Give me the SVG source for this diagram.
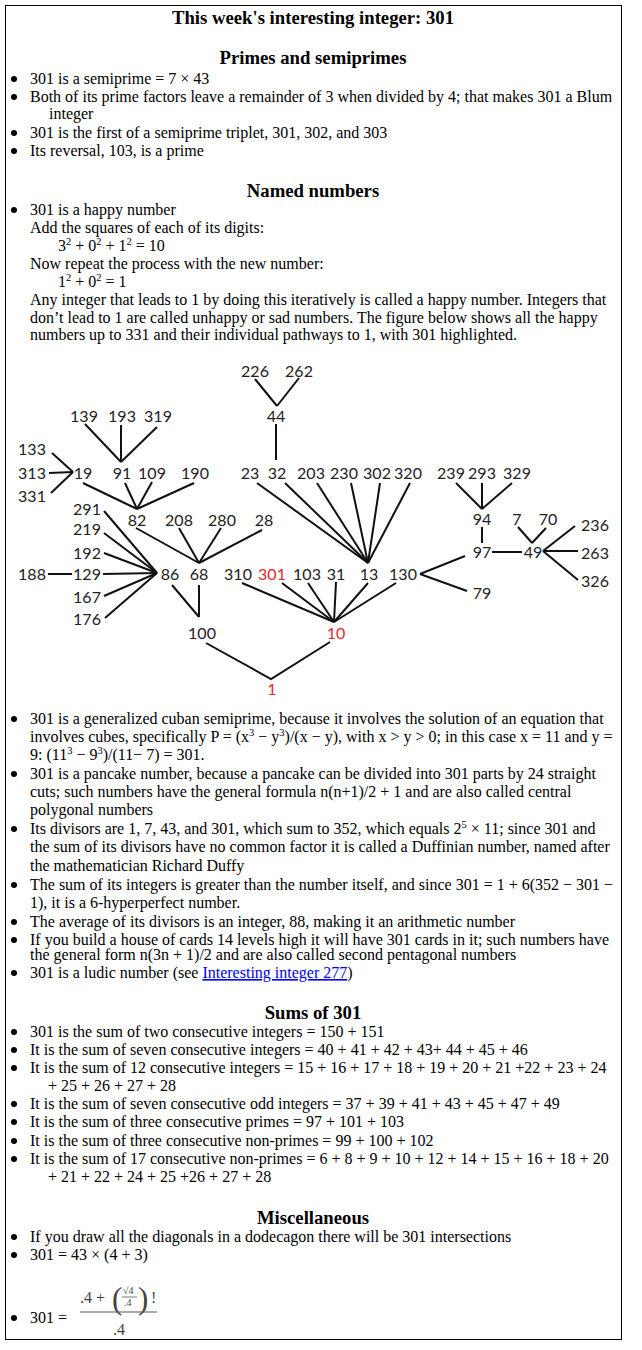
<svg xmlns="http://www.w3.org/2000/svg" width="642" height="1350" viewBox="0 0 642 1350">
<style>
.t{font-family:"Liberation Serif","Times New Roman",serif;font-size:16px;fill:#000}
.h{font-family:"Liberation Serif","Times New Roman",serif;font-size:18.7px;font-weight:bold;fill:#000;text-anchor:middle}
.b{fill:#000}
.n{font-family:Lato,"Open Sans",sans-serif;font-size:16px;fill:#222;text-anchor:middle}
.r{fill:#E8262B}
.c line,.c polyline{stroke:#111;stroke-width:2;fill:none}
.s{font-size:10.5px}
.m{font-family:"Liberation Serif","Times New Roman",serif;fill:#444}
</style>
<rect x="5.5" y="5.5" width="616" height="1334" fill="#fff" stroke="#000" stroke-width="1"/>

<g id="title">
<text class="h" x="313" y="24">This week's interesting integer: 301</text>
</g>

<g id="sec-primes">
<text class="h" x="313" y="64">Primes and semiprimes</text>
<circle class="b" cx="14" cy="79" r="3"/>
<text class="t" x="30" y="84">301 is a semiprime = 7 × 43</text>
<circle class="b" cx="14" cy="97" r="3"/>
<text class="t" x="30" y="102">Both of its prime factors leave a remainder of 3 when divided by 4; that makes 301 a Blum</text>
<text class="t" x="49" y="119">integer</text>
<circle class="b" cx="14" cy="133" r="3"/>
<text class="t" x="30" y="138">301 is the first of a semiprime triplet, 301, 302, and 303</text>
<circle class="b" cx="14" cy="151" r="3"/>
<text class="t" x="30" y="156">Its reversal, 103, is a prime</text>
</g>

<g id="sec-named">
<text class="h" x="313" y="197">Named numbers</text>
<circle class="b" cx="14" cy="210" r="3"/>
<text class="t" x="30" y="215">301 is a happy number</text>
<text class="t" x="30" y="233">Add the squares of each of its digits:</text>
<text class="t" x="58" y="251">3<tspan class="s" dy="-6">2</tspan><tspan dy="6"> + 0</tspan><tspan class="s" dy="-6">2</tspan><tspan dy="6"> + 1</tspan><tspan class="s" dy="-6">2</tspan><tspan dy="6"> = 10</tspan></text>
<text class="t" x="30" y="269">Now repeat the process with the new number:</text>
<text class="t" x="58" y="287">1<tspan class="s" dy="-6">2</tspan><tspan dy="6"> + 0</tspan><tspan class="s" dy="-6">2</tspan><tspan dy="6"> = 1</tspan></text>
<text class="t" x="30" y="305">Any integer that leads to 1 by doing this iteratively is called a happy number. Integers that</text>
<text class="t" x="30" y="323">don’t lead to 1 are called unhappy or sad numbers. The figure below shows all the happy</text>
<text class="t" x="30" y="340">numbers up to 331 and their individual pathways to 1, with 301 highlighted.</text>
</g>

<g id="connectors" class="c">
<line x1="255" y1="379" x2="277" y2="406"/>
<line x1="299" y1="378" x2="277" y2="406"/>
<line x1="276" y1="424" x2="276" y2="460"/>
<line x1="257" y1="483" x2="368" y2="563"/>
<line x1="285" y1="483" x2="368" y2="563"/>
<line x1="317" y1="483" x2="368" y2="563"/>
<line x1="351" y1="483" x2="368" y2="563"/>
<line x1="380" y1="483" x2="368" y2="563"/>
<line x1="410" y1="483" x2="368" y2="563"/>
<line x1="456" y1="483" x2="482" y2="509"/>
<line x1="482" y1="483" x2="482" y2="509"/>
<line x1="512" y1="483" x2="482" y2="509"/>
<line x1="482" y1="527" x2="482" y2="543"/>
<line x1="492" y1="552" x2="522" y2="552"/>
<line x1="518" y1="527" x2="532" y2="543"/>
<line x1="546" y1="528" x2="532" y2="543"/>
<line x1="543" y1="551" x2="575" y2="526"/>
<line x1="543" y1="551" x2="578" y2="551"/>
<line x1="543" y1="551" x2="578" y2="580"/>
<line x1="420" y1="574" x2="465" y2="556"/>
<line x1="420" y1="574" x2="467" y2="591"/>
<line x1="242" y1="583" x2="334" y2="622"/>
<line x1="282" y1="583" x2="334" y2="622"/>
<line x1="308" y1="583" x2="334" y2="622"/>
<line x1="336" y1="582" x2="334" y2="622"/>
<line x1="368" y1="583" x2="334" y2="622"/>
<line x1="396" y1="583" x2="334" y2="622"/>
<polyline points="206,643 271,679 330,642"/>
<line x1="85" y1="424" x2="121" y2="462"/>
<line x1="121" y1="425" x2="121" y2="462"/>
<line x1="157" y1="427" x2="121" y2="462"/>
<line x1="52" y1="453" x2="73" y2="472"/>
<line x1="49" y1="473" x2="73" y2="472"/>
<line x1="51" y1="493" x2="73" y2="472"/>
<line x1="83" y1="483" x2="137" y2="509"/>
<line x1="125" y1="483" x2="137" y2="509"/>
<line x1="152" y1="482" x2="137" y2="509"/>
<line x1="194" y1="483" x2="137" y2="509"/>
<line x1="104" y1="511" x2="157" y2="573"/>
<line x1="104" y1="533" x2="157" y2="573"/>
<line x1="104" y1="553" x2="157" y2="573"/>
<line x1="103" y1="574" x2="157" y2="573"/>
<line x1="104" y1="596" x2="157" y2="573"/>
<line x1="105" y1="618" x2="157" y2="573"/>
<line x1="48" y1="574" x2="72" y2="574"/>
<line x1="136" y1="528" x2="199" y2="563"/>
<line x1="179" y1="528" x2="199" y2="563"/>
<line x1="221" y1="528" x2="199" y2="563"/>
<line x1="262" y1="530" x2="199" y2="563"/>
<line x1="172" y1="585" x2="199" y2="617"/>
<line x1="199" y1="585" x2="199" y2="617"/>
</g>

<g id="n226"><text class="n" x="255" y="377">226</text></g>
<g id="n262"><text class="n" x="299" y="377">262</text></g>
<g id="n44"><text class="n" x="276" y="422">44</text></g>
<g id="n139"><text class="n" x="84" y="422">139</text></g>
<g id="n193"><text class="n" x="122" y="422">193</text></g>
<g id="n319"><text class="n" x="158" y="422">319</text></g>
<g id="n133"><text class="n" x="32" y="455">133</text></g>
<g id="n313"><text class="n" x="32" y="479">313</text></g>
<g id="n331"><text class="n" x="32" y="502">331</text></g>
<g id="n19"><text class="n" x="83" y="479">19</text></g>
<g id="n91"><text class="n" x="122" y="479">91</text></g>
<g id="n109"><text class="n" x="152" y="479">109</text></g>
<g id="n190"><text class="n" x="195" y="479">190</text></g>
<g id="n23"><text class="n" x="250" y="479">23</text></g>
<g id="n32"><text class="n" x="277" y="479">32</text></g>
<g id="n203"><text class="n" x="311" y="479">203</text></g>
<g id="n230"><text class="n" x="344" y="479">230</text></g>
<g id="n302"><text class="n" x="377" y="479">302</text></g>
<g id="n320"><text class="n" x="408" y="479">320</text></g>
<g id="n239"><text class="n" x="451" y="479">239</text></g>
<g id="n293"><text class="n" x="482" y="479">293</text></g>
<g id="n329"><text class="n" x="517" y="479">329</text></g>
<g id="n291"><text class="n" x="87" y="515">291</text></g>
<g id="n82"><text class="n" x="137" y="526">82</text></g>
<g id="n208"><text class="n" x="179" y="526">208</text></g>
<g id="n280"><text class="n" x="222" y="526">280</text></g>
<g id="n28"><text class="n" x="264" y="526">28</text></g>
<g id="n94"><text class="n" x="482" y="525">94</text></g>
<g id="n7"><text class="n" x="517" y="525">7</text></g>
<g id="n70"><text class="n" x="548" y="525">70</text></g>
<g id="n236"><text class="n" x="595" y="531">236</text></g>
<g id="n219"><text class="n" x="87" y="535">219</text></g>
<g id="n192"><text class="n" x="87" y="559">192</text></g>
<g id="n97"><text class="n" x="482" y="558">97</text></g>
<g id="n49"><text class="n" x="533" y="558">49</text></g>
<g id="n263"><text class="n" x="595" y="559">263</text></g>
<g id="n188"><text class="n" x="32" y="580">188</text></g>
<g id="n129"><text class="n" x="87" y="580">129</text></g>
<g id="n86"><text class="n" x="170" y="580">86</text></g>
<g id="n68"><text class="n" x="199" y="580">68</text></g>
<g id="n310"><text class="n" x="238" y="580">310</text></g>
<g id="n301"><text class="n r" x="272" y="580">301</text></g>
<g id="n103"><text class="n" x="307" y="580">103</text></g>
<g id="n31"><text class="n" x="336" y="580">31</text></g>
<g id="n13"><text class="n" x="369" y="580">13</text></g>
<g id="n130"><text class="n" x="403" y="580">130</text></g>
<g id="n326"><text class="n" x="595" y="587">326</text></g>
<g id="n79"><text class="n" x="482" y="599">79</text></g>
<g id="n167"><text class="n" x="87" y="603">167</text></g>
<g id="n176"><text class="n" x="87" y="625">176</text></g>
<g id="n100"><text class="n" x="202" y="639">100</text></g>
<g id="n10"><text class="n r" x="336" y="639">10</text></g>
<g id="n1"><text class="n r" x="272" y="695">1</text></g>

<g id="sec-named-2">
<circle class="b" cx="14" cy="719" r="3"/>
<text class="t" x="30" y="724">301 is a generalized cuban semiprime, because it involves the solution of an equation that</text>
<text class="t" x="30" y="742">involves cubes, specifically P = (x<tspan class="s" dy="-6">3</tspan><tspan dy="6"> − y</tspan><tspan class="s" dy="-6">3</tspan><tspan dy="6">)/(x − y), with x &gt; y &gt; 0; in this case x = 11 and y =</tspan></text>
<text class="t" x="30" y="760">9: (11<tspan class="s" dy="-6">3</tspan><tspan dy="6"> − 9</tspan><tspan class="s" dy="-6">3</tspan><tspan dy="6">)/(11− 7) = 301.</tspan></text>
<circle class="b" cx="14" cy="774" r="3"/>
<text class="t" x="30" y="779">301 is a pancake number, because a pancake can be divided into 301 parts by 24 straight</text>
<text class="t" x="30" y="797">cuts; such numbers have the general formula n(n+1)/2 + 1 and are also called central</text>
<text class="t" x="30" y="815">polygonal numbers</text>
<circle class="b" cx="14" cy="829" r="3"/>
<text class="t" x="30" y="834">Its divisors are 1, 7, 43, and 301, which sum to 352, which equals 2<tspan class="s" dy="-6">5</tspan><tspan dy="6"> × 11; since 301 and</tspan></text>
<text class="t" x="30" y="852">the sum of its divisors have no common factor it is called a Duffinian number, named after</text>
<text class="t" x="30" y="871">the mathematician Richard Duffy</text>
<circle class="b" cx="14" cy="885" r="3"/>
<text class="t" x="30" y="890">The sum of its integers is greater than the number itself, and since 301 = 1 + 6(352 − 301 −</text>
<text class="t" x="30" y="908">1), it is a 6-hyperperfect number.</text>
<circle class="b" cx="14" cy="922" r="3"/>
<text class="t" x="30" y="927">The average of its divisors is an integer, 88, making it an arithmetic number</text>
<circle class="b" cx="14" cy="940" r="3"/>
<text class="t" x="30" y="945">If you build a house of cards 14 levels high it will have 301 cards in it; such numbers have</text>
<text class="t" x="30" y="960">the general form n(3n + 1)/2 and are also called second pentagonal numbers</text>
<circle class="b" cx="14" cy="973" r="3"/>
<text class="t" x="30" y="978">301 is a ludic number (see <tspan fill="#0000EE" text-decoration="underline">Interesting integer 277</tspan>)</text>
</g>

<g id="sec-sums">
<text class="h" x="313" y="1019">Sums of 301</text>
<circle class="b" cx="14" cy="1032" r="3"/>
<text class="t" x="30" y="1037">301 is the sum of two consecutive integers = 150 + 151</text>
<circle class="b" cx="14" cy="1050" r="3"/>
<text class="t" x="30" y="1055">It is the sum of seven consecutive integers = 40 + 41 + 42 + 43+ 44 + 45 + 46</text>
<circle class="b" cx="14" cy="1068" r="3"/>
<text class="t" x="30" y="1073">It is the sum of 12 consecutive integers = 15 + 16 + 17 + 18 + 19 + 20 + 21 +22 + 23 + 24</text>
<text class="t" x="48" y="1091">+ 25 + 26 + 27 + 28</text>
<circle class="b" cx="14" cy="1104" r="3"/>
<text class="t" x="30" y="1109">It is the sum of seven consecutive odd integers = 37 + 39 + 41 + 43 + 45 + 47 + 49</text>
<circle class="b" cx="14" cy="1122" r="3"/>
<text class="t" x="30" y="1127">It is the sum of three consecutive primes = 97 + 101 + 103</text>
<circle class="b" cx="14" cy="1141" r="3"/>
<text class="t" x="30" y="1146">It is the sum of three consecutive non-primes = 99 + 100 + 102</text>
<circle class="b" cx="14" cy="1159" r="3"/>
<text class="t" x="30" y="1164">It is the sum of 17 consecutive non-primes = 6 + 8 + 9 + 10 + 12 + 14 + 15 + 16 + 18 + 20</text>
<text class="t" x="48" y="1182">+ 21 + 22 + 24 + 25 +26 + 27 + 28</text>
</g>

<g id="sec-misc">
<text class="h" x="313" y="1224">Miscellaneous</text>
<circle class="b" cx="14" cy="1237" r="3"/>
<text class="t" x="30" y="1242">If you draw all the diagonals in a dodecagon there will be 301 intersections</text>
<circle class="b" cx="14" cy="1255" r="3"/>
<text class="t" x="30" y="1260">301 = 43 × (4 + 3)</text>
<circle class="b" cx="14" cy="1318" r="3"/>
<text class="t" x="30" y="1323">301 =</text>
<g id="fraction">
<text class="m" x="80" y="1303" font-size="16">.4 +</text>
<text class="m" x="112" y="1309" font-size="31">(</text>
<text class="m" x="123" y="1294" font-size="10">√4</text>
<line x1="122" y1="1297" x2="137" y2="1297" stroke="#555" stroke-width="0.8"/>
<text class="m" x="124" y="1306" font-size="10">.4</text>
<text class="m" x="138" y="1309" font-size="31">)</text>
<text class="m" x="151" y="1303" font-size="16">!</text>
<line x1="80" y1="1312" x2="157" y2="1312" stroke="#555" stroke-width="1"/>
<text class="m" x="113" y="1335" font-size="16">.4</text>
</g>
</g>
</svg>
